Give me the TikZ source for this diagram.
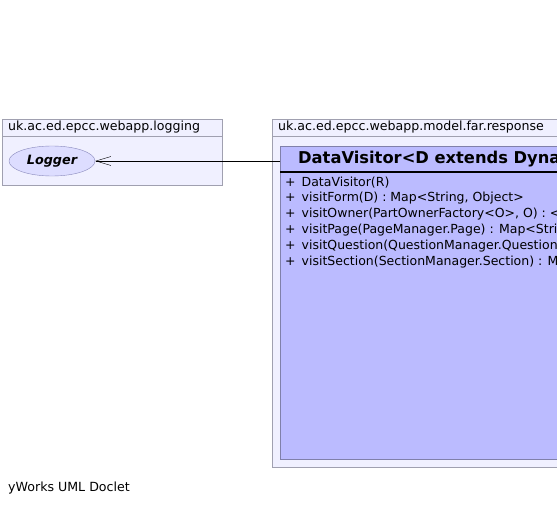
\documentclass[tikz,border=0pt]{standalone}
\usepackage{fontspec}
\setmainfont{DejaVu Sans}
\usetikzlibrary{positioning,arrows.meta,shapes.geometric}

\definecolor{pkgfill}{RGB}{240,240,255}
\definecolor{pkgline}{RGB}{160,160,176}
\definecolor{clsfill}{RGB}{187,187,255}
\definecolor{clsline}{RGB}{128,128,170}
\definecolor{ifcfill}{RGB}{221,221,255}
\definecolor{ifcline}{RGB}{136,136,187}

\newcommand{\pubm}{+\hspace{6pt}}

\begin{document}
\begin{tikzpicture}[x=1pt, y=-1pt,
    pkgnode/.style={rectangle, draw=pkgline, fill=pkgfill, inner sep=0pt, anchor=north west},
    pkgtitle/.style={anchor=west, inner sep=0pt, font=\fontsize{12.6}{14}\selectfont},
    clsnode/.style={rectangle, draw=clsline, fill=clsfill, inner sep=0pt, anchor=north west},
    ifcnode/.style={ellipse, draw=ifcline, fill=ifcfill, minimum width=86, minimum height=30, inner sep=0pt, font=\fontsize{12.8}{14}\selectfont\bfseries\itshape},
    members/.style={anchor=north west, inner sep=0pt, align=left, font=\fontsize{12.5}{15.8}\selectfont},
    dep/.style={-{Straight Barb[length=15pt, width=9pt]}, black}
   ]
   \useasboundingbox (0,0) rectangle (557,505);
   \clip (0,0) rectangle (557,505);

   % logging package
   \node[pkgnode, minimum width=220, minimum height=66] (loggingpkg) at (2,119) {};
   \node[pkgnode, minimum width=220, minimum height=17] (loggingtab) at (2,119) {};
   \node[pkgtitle] (loggingname) at (8,127.5) {uk.ac.ed.epcc.webapp.logging};
   \node[ifcnode] (logger) at (52,161) {Logger};

   % response package
   \node[pkgnode, minimum width=400, minimum height=348] (responsepkg) at (272,119) {};
   \node[pkgnode, minimum width=400, minimum height=17] (responsetab) at (272,119) {};
   \node[pkgtitle] (responsename) at (278,127.5) {uk.ac.ed.epcc.webapp.model.far.response};

   \node[clsnode, minimum width=400, minimum height=313] (datavisitor) at (280,146) {};
   \node[anchor=west, inner sep=0pt, font=\fontsize{16.3}{18}\selectfont\bfseries] (dvhead) at (298,159) {DataVisitor<D extends DynamicForm, R>};
   \draw[line width=2pt] (280,172) -- (680,172);
   \node[members] (dvmembers) at (285,176.5) {%
     \pubm DataVisitor(R)\\
     \pubm visitForm(D) : Map<String, Object>\\
     \pubm visitOwner(PartOwnerFactory<O>, O) : <O extends PartOwner> Map<String, Object>\\
     \pubm visitPage(PageManager.Page) : Map<String, Object>\\
     \pubm visitQuestion(QuestionManager.Question) : Map<String, Object>\\
     \pubm visitSection(SectionManager.Section) : Map<String, Object>};

  \draw[dep] (logger -| datavisitor.west) -- (logger.east);

  \node[anchor=west, inner sep=0pt, font=\fontsize{12.6}{14}\selectfont] (credit) at (8,488) {yWorks UML Doclet};
 \end{tikzpicture}
\end{document}
